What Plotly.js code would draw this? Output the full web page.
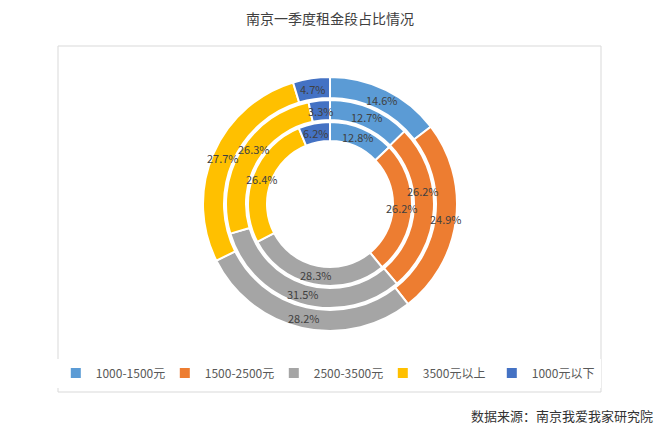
<!DOCTYPE html>
<html>
<head>
<meta charset="utf-8">
<script src="https://cdn.plot.ly/plotly-3.0.1.min.js"></script>
<style>
  html, body { margin: 0; padding: 0; background: #fff; }
  #chart { width: 670px; height: 432px; }
</style>
</head>
<body>
<div id="chart"></div>
<script>
// tranches de loyer (légende)
var categories = ['1000-1500元', '1500-2500元', '2500-3500元', '3500元以上', '1000元以下'];
// anneau extérieur, anneau du milieu, anneau intérieur (en %)
var outerValues = [14.6, 24.9, 28.2, 27.7, 4.7];
var middleValues = [12.7, 26.2, 31.5, 26.3, 3.3];
var innerValues = [12.8, 26.2, 28.3, 26.4, 6.2];
var colors = ['#5B9BD5', '#ED7D31', '#A5A5A5', '#FFC000', '#4472C4'];

var W = 670, H = 432;
var cx = 330, cy = 204;

// domaine d'un anneau de rayon r (px) centré sur cx, cy
function dom(r) {
  return {
    x: [(cx - r) / W, (cx + r) / W],
    y: [1 - (cy + r) / H, 1 - (cy - r) / H]
  };
}

function ring(values, r, rIn, showlegend) {
  return {
    type: 'pie',
    values: values,
    labels: categories,
    domain: dom(r),
    hole: rIn / r,
    sort: false,
    direction: 'clockwise',
    rotation: 0,
    marker: { colors: colors, line: { color: '#ffffff', width: 2 } },
    textinfo: 'none',
    hoverinfo: 'label+value',
    showlegend: showlegend
  };
}

var rings = [
  { values: outerValues, r: 127, rIn: 106 },
  { values: middleValues, r: 104, rIn: 84 },
  { values: innerValues, r: 82, rIn: 63 }
];

var data = rings.map(function(g, i) {
  return ring(g.values, g.r, g.rIn, i === 0);
});

// étiquettes de données : au milieu de chaque secteur, décalées
// le long de l'anneau si elles se chevauchent (comme Excel)
var placed = [];
var labelW = 30, labelH = 16;
function overlaps(x, y) {
  for (var k = 0; k < placed.length; k++) {
    if (Math.abs(placed[k][0] - x) < labelW && Math.abs(placed[k][1] - y) < labelH) return true;
  }
  return false;
}
function pos(rm, ang) {
  var a = ang * Math.PI / 180;
  return [cx + rm * Math.sin(a), cy - rm * Math.cos(a)];
}
var labels = [];
[0, 2, 1].forEach(function(i) {
  var g = rings[i];
  var total = g.values.reduce(function(s, v) { return s + v; }, 0);
  var rm = (g.r + g.rIn) / 2;
  var cum = 0;
  g.values.forEach(function(v) {
    var ang = (cum + v / 2) / total * 360;
    cum += v;
    var p = pos(rm, ang);
    for (var d = 1; d <= 40 && overlaps(p[0], p[1]); d++) {
      var p1 = pos(rm, ang - d), p2 = pos(rm, ang + d);
      if (!overlaps(p1[0], p1[1])) { p = p1; break; }
      if (!overlaps(p2[0], p2[1])) { p = p2; break; }
    }
    placed.push(p);
    labels.push({
      text: v.toFixed(1) + '%',
      xref: 'paper', yref: 'paper',
      x: p[0] / W, y: 1 - p[1] / H,
      xanchor: 'center', yanchor: 'middle',
      showarrow: false,
      font: { size: 11, color: '#404040' }
    });
  });
});

var layout = {
  width: W,
  height: H,
  margin: { t: 0, b: 0, l: 0, r: 0 },
  paper_bgcolor: '#ffffff',
  font: { family: 'Noto Sans CJK SC, sans-serif', color: '#595959' },
  title: {
    text: '南京一季度租金段占比情况',
    x: 0.4925, xanchor: 'center',
    y: 1 - 19 / H, yanchor: 'middle',
    font: { size: 14, color: '#404040' }
  },
  showlegend: true,
  legend: {
    orientation: 'h',
    x: 0.49, xanchor: 'center',
    y: 1 - 373 / H, yanchor: 'middle',
    font: { size: 12, color: '#595959' },
    itemwidth: 30,
    entrywidth: 64,
    traceorder: 'normal'
  },
  shapes: [{
    type: 'rect', xref: 'paper', yref: 'paper',
    x0: 58 / W, x1: 601 / W, y0: 1 - 392 / H, y1: 1 - 46 / H,
    line: { color: '#d9d9d9', width: 1 }
  }],
  annotations: labels.concat([{
    text: '数据来源：南京我爱我家研究院',
    xref: 'paper', yref: 'paper',
    x: 655 / W, xanchor: 'right',
    y: 1 - 415 / H, yanchor: 'middle',
    showarrow: false,
    font: { size: 13, color: '#333333' }
  }])
};

Plotly.newPlot('chart', data, layout, { displayModeBar: false });
</script>
</body>
</html>
